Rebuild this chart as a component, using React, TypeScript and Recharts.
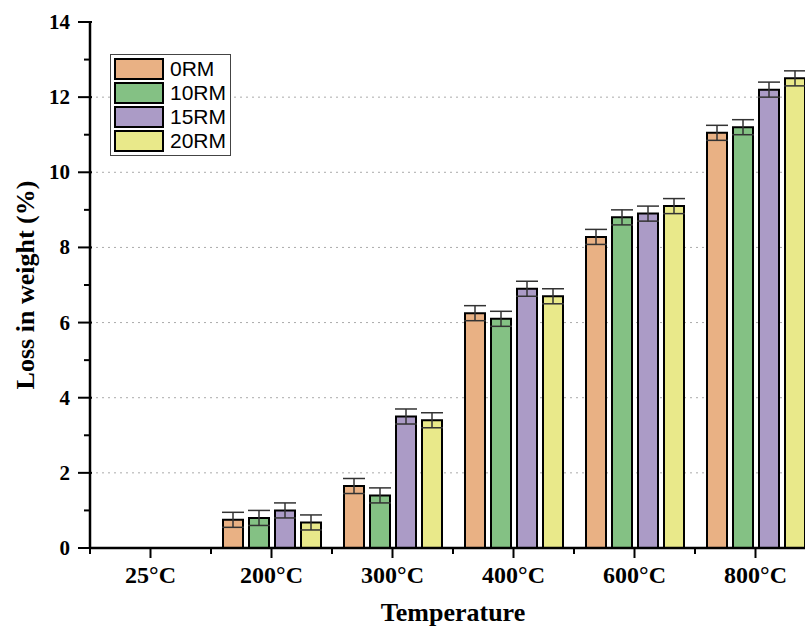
import { BarChart, Bar, XAxis, YAxis, CartesianGrid, ErrorBar, Label } from "recharts"

// temperatures on the x axis
const temperatures = ["25°C", "200°C", "300°C", "400°C", "600°C", "800°C"]

// loss in weight (%) per mix
const rm0 = [null, 0.75, 1.65, 6.25, 8.28, 11.05]
const rm10 = [null, 0.8, 1.4, 6.1, 8.8, 11.2]
const rm15 = [null, 1.0, 3.5, 6.9, 8.9, 12.2]
const rm20 = [null, 0.68, 3.4, 6.7, 9.1, 12.5]

// error bars (+/-)
const err0 = [null, 0.2, 0.2, 0.2, 0.2, 0.2]
const err10 = [null, 0.2, 0.2, 0.2, 0.2, 0.2]
const err15 = [null, 0.2, 0.2, 0.2, 0.2, 0.2]
const err20 = [null, 0.2, 0.2, 0.2, 0.2, 0.2]

const yTicks = [0, 1, 2, 3, 4, 5, 6, 7, 8, 9, 10, 11, 12, 13, 14]
const gridValues = [2, 4, 6, 8, 10, 12]

const series = [
  { key: "rm0", err: "e0", name: "0RM", color: "#E9B184" },
  { key: "rm10", err: "e10", name: "10RM", color: "#84C184" },
  { key: "rm15", err: "e15", name: "15RM", color: "#AB9BC6" },
  { key: "rm20", err: "e20", name: "20RM", color: "#E9E98A" },
]

const data = temperatures.map((t, i) => ({
  temp: t,
  rm0: rm0[i],
  rm10: rm10[i],
  rm15: rm15[i],
  rm20: rm20[i],
  e0: err0[i],
  e10: err10[i],
  e15: err15[i],
  e20: err20[i],
}))

const serif = "'Liberation Serif', 'Times New Roman', serif"

const YTick = ({ x, y, payload }: any) => {
  const major = payload.value % 2 === 0
  return (
    <g>
      <line x1={x - (major ? 12 : 6)} x2={x + (major ? 2 : 0)} y1={y} y2={y} stroke="#000" strokeWidth={2} />
      {major && (
        <text x={x - 20} y={y} dy={7} textAnchor="end" fontFamily={serif} fontWeight="bold" fontSize={21} fill="#000">
          {payload.value}
        </text>
      )}
    </g>
  )
}

const XTick = ({ x, y, payload }: any) => {
  const half = 60.5
  return (
    <g>
      <line x1={x} x2={x} y1={y} y2={y + 10} stroke="#000" strokeWidth={2} />
      <line x1={x - half} x2={x - half} y1={y} y2={y + 6} stroke="#000" strokeWidth={2} />
      <line x1={x + half} x2={x + half} y1={y} y2={y + 6} stroke="#000" strokeWidth={2} />
      <text x={x} y={y + 35} textAnchor="middle" fontFamily={serif} fontWeight="bold" fontSize={24} fill="#000">
        {payload.value}
      </text>
    </g>
  )
}

const LegendBox = () => (
  <div
    style={{
      position: "absolute",
      left: 110,
      top: 54,
      border: "1px solid #444",
      background: "#fff",
      padding: "2px 3px",
      width: 121,
      boxSizing: "border-box",
    }}
  >
    {series.map((s) => (
      <div key={s.key} style={{ display: "flex", alignItems: "center", height: 24 }}>
        <div style={{ width: 46, height: 18, background: s.color, border: "2px solid #000", marginRight: 6 }} />
        <span style={{ fontFamily: "'Liberation Sans', Arial, sans-serif", fontSize: 21, color: "#000", lineHeight: "20px" }}>
          {s.name}
        </span>
      </div>
    ))}
  </div>
)

export default function App() {
  return (
    <div style={{ position: "absolute", left: 0, top: 0, width: 805, height: 630, overflow: "hidden", background: "#fff" }}>
      <BarChart
        width={830}
        height={630}
        data={data}
        margin={{ top: 22, right: 14, bottom: 0, left: 0 }}
        barSize={20}
        barGap={6}
      >
        <CartesianGrid horizontal vertical={false} horizontalValues={gridValues} stroke="#aaa" strokeDasharray="2 4" />
        <XAxis
          dataKey="temp"
          height={82}
          tick={<XTick />}
          tickLine={false}
          tickSize={0}
          tickMargin={0}
          axisLine={{ stroke: "#000", strokeWidth: 2.5 }}
          interval={0}
        >
          <Label
            content={({ viewBox }: any) => (
              <text
                x={viewBox.x + viewBox.width / 2}
                y={viewBox.y + 73}
                textAnchor="middle"
                fontFamily={serif}
                fontWeight="bold"
                fontSize={26}
                fill="#000"
              >
                Temperature
              </text>
            )}
          />
        </XAxis>
        <YAxis
          width={90}
          domain={[0, 14]}
          ticks={yTicks}
          interval={0}
          tick={<YTick />}
          tickLine={false}
          tickSize={0}
          tickMargin={0}
          axisLine={{ stroke: "#000", strokeWidth: 2.5 }}
        >
          <Label
            content={({ viewBox }: any) => {
              const cx = 25
              const cy = viewBox.y + viewBox.height / 2
              return (
                <text
                  x={cx}
                  y={cy}
                  transform={`rotate(-90 ${cx} ${cy})`}
                  textAnchor="middle"
                  dominantBaseline="central"
                  fontFamily={serif}
                  fontWeight="bold"
                  fontSize={26}
                  fill="#000"
                >
                  Loss in weight (%)
                </text>
              )
            }}
          />
        </YAxis>
        {series.map((s) => (
          <Bar key={s.key} dataKey={s.key} name={s.name} fill={s.color} stroke="#000" strokeWidth={2} isAnimationActive={false}>
            <ErrorBar dataKey={s.err} width={11} stroke="#333" strokeWidth={1.5} isAnimationActive={false} />
          </Bar>
        ))}
      </BarChart>
      <LegendBox />
    </div>
  )
}
